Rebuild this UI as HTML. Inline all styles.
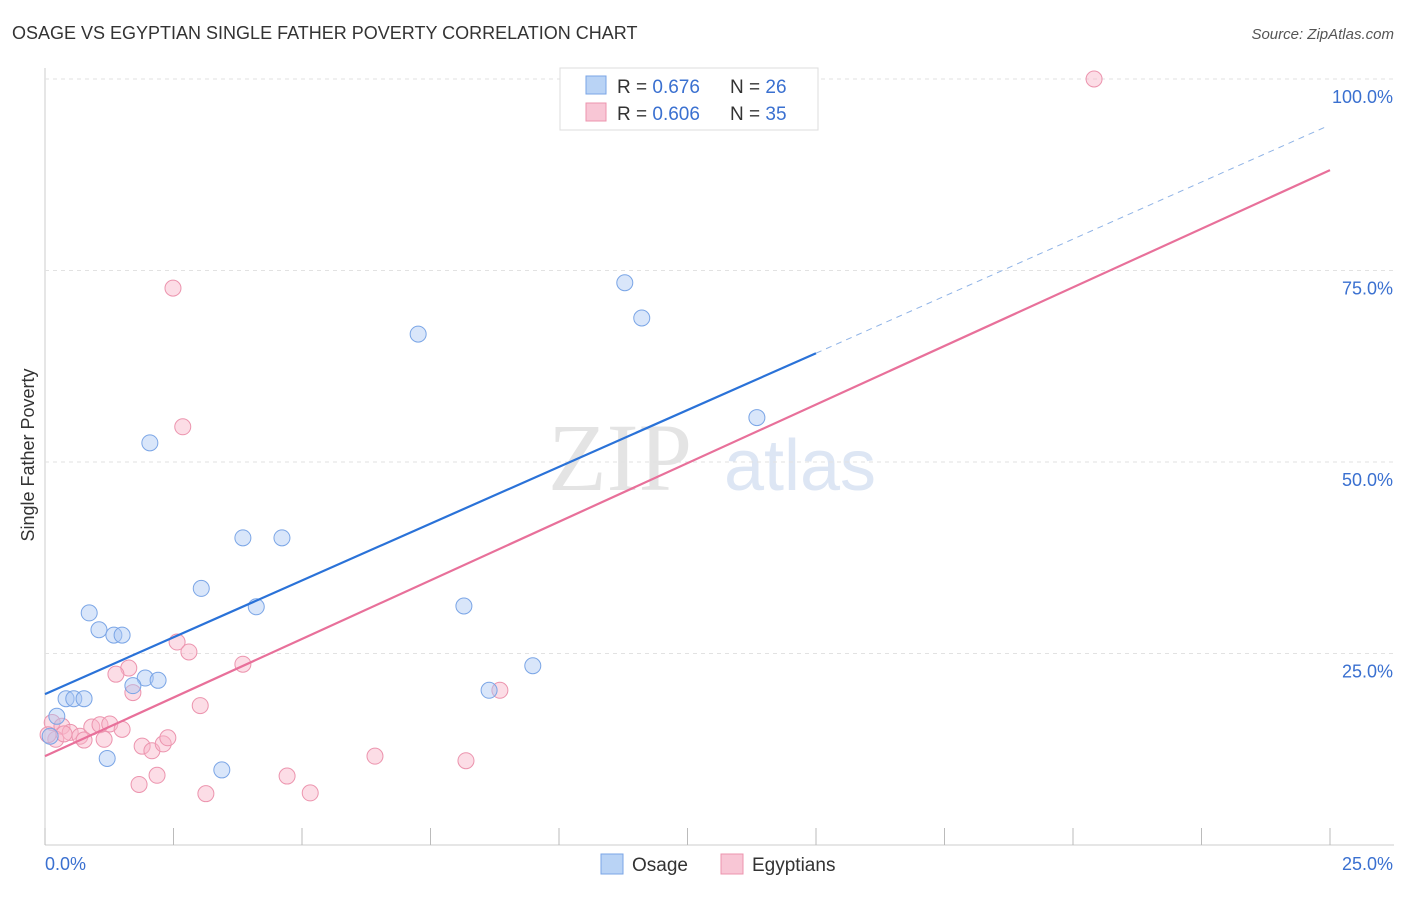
<!DOCTYPE html>
<html><head><meta charset="utf-8"><style>
body{margin:0;background:#fff;font-family:"Liberation Sans",sans-serif}
</style></head><body>
<svg id="c" width="1406" height="892" xmlns="http://www.w3.org/2000/svg">
<text x="12" y="39" font-size="18" fill="#333">OSAGE VS EGYPTIAN SINGLE FATHER POVERTY CORRELATION CHART</text>
<text x="1394" y="39" font-size="15" fill="#555" text-anchor="end" font-style="italic">Source: ZipAtlas.com</text>
<text x="620" y="490" font-size="96" fill="#e4e4e4" font-family="Liberation Serif" text-anchor="middle">ZIP</text>
<text x="800" y="490" font-size="72" fill="#dde6f4" text-anchor="middle">atlas</text>
<g id="axes"></g><g id="marks"></g>
<text x="34" y="455" font-size="18" fill="#333" text-anchor="middle" transform="rotate(-90 34 455)">Single Father Poverty</text>
<g>
<rect x="560" y="68" width="258" height="62" fill="#fff" stroke="#ddd"/>
<rect x="586" y="76" width="20" height="18" fill="#b9d3f5" stroke="#7aa5e6"/>
<text x="617" y="93" font-size="19" fill="#333">R = <tspan fill="#3a70d0">0.676</tspan></text>
<text x="730" y="93" font-size="19" fill="#333">N = <tspan fill="#3a70d0">26</tspan></text>
<rect x="586" y="103" width="20" height="18" fill="#f8c6d5" stroke="#ec94ae"/>
<text x="617" y="120" font-size="19" fill="#333">R = <tspan fill="#3a70d0">0.606</tspan></text>
<text x="730" y="120" font-size="19" fill="#333">N = <tspan fill="#3a70d0">35</tspan></text>
</g>
<g>
<rect x="601" y="854" width="22" height="20" fill="#b9d3f5" stroke="#7aa5e6"/>
<text x="632" y="871" font-size="19" fill="#333">Osage</text>
<rect x="721" y="854" width="22" height="20" fill="#f8c6d5" stroke="#ec94ae"/>
<text x="752" y="871" font-size="19" fill="#333">Egyptians</text>
</g>
</svg>
<script>
const yTicks=[25,50,75,100];
const xTickLabels=["0.0%","25.0%"];
const osageX=[2.04,11.28,11.61,7.26,13.85,3.85,4.61,3.04,4.11,0.86,1.05,1.34,1.50,8.15,9.49,1.95,2.20,1.71,8.64,0.41,0.56,0.76,0.23,1.21,3.44,0.10];
const osageY=[52.5,73.4,68.8,66.7,55.8,40.1,40.1,33.5,31.1,30.3,28.1,27.4,27.4,31.2,23.4,21.8,21.5,20.8,20.2,19.1,19.1,19.1,16.8,11.3,9.8,14.2];
const egyX=[20.41,2.49,2.68,2.57,2.80,3.85,1.63,1.38,1.71,3.02,0.14,0.33,0.49,0.68,0.91,1.07,1.26,1.50,1.15,0.76,1.89,2.08,2.30,2.39,0.21,6.42,8.19,2.18,1.83,4.71,5.16,3.13,8.85,0.06,0.37];
const egyY=[100,72.7,54.6,26.5,25.2,23.6,23.1,22.3,19.9,18.2,16.0,15.5,14.7,14.2,15.4,15.7,15.8,15.1,13.8,13.7,12.9,12.3,13.2,14.0,13.8,11.6,11.0,9.1,7.9,9.0,6.8,6.7,20.2,14.4,14.5];
const osageLine=[[0,19.7],[15,64.2]], osageDash=[[15,64.2],[24.9,93.7]];
const egyLine=[[0,11.6],[25,88.1]];
const X=v=>45+v*51.4, Y=v=>845-v*7.66;
const ns="http://www.w3.org/2000/svg";
const ax=document.getElementById('axes'), mk=document.getElementById('marks');
function el(t,a,p){const e=document.createElementNS(ns,t);for(const k in a)e.setAttribute(k,a[k]);p.appendChild(e);return e;}
let e=el('line',{x1:45,y1:68,x2:45,y2:845,stroke:'#ccc'},ax);


e=el('line',{x1:45,y1:845,x2:1394,y2:845,stroke:'#ccc'},ax);


for(let i=0;i<=10;i++){e=el('line',{x1:X(i*2.5),x2:X(i*2.5),y1:828,y2:845,stroke:'#bbb'},ax);

}
yTicks.forEach(t=>{e=el('line',{x1:45,x2:1394,y1:Y(t),y2:Y(t),stroke:'#e2e2e2','stroke-dasharray':'4,4'},ax);


e=el('text',{x:1393,y:Y(t)+24,'font-size':18,fill:'#3a70d0','text-anchor':'end'},ax);e.textContent=t.toFixed(1)+'%';

});
e=el('text',{x:45,y:870,'font-size':18,fill:'#3a70d0'},ax);e.textContent=xTickLabels[0];


e=el('text',{x:1393,y:870,'font-size':18,fill:'#3a70d0','text-anchor':'end'},ax);e.textContent=xTickLabels[1];


egyX.forEach((v,i)=>{e=el('circle',{cx:X(v),cy:Y(egyY[i]),r:8,fill:'rgba(248,180,200,0.45)',stroke:'#ec94ae','stroke-width':1},mk);

});
osageX.forEach((v,i)=>{e=el('circle',{cx:X(v),cy:Y(osageY[i]),r:8,fill:'rgba(170,200,245,0.45)',stroke:'#7aa5e6','stroke-width':1},mk);

});
e=el('line',{x1:X(egyLine[0][0]),y1:Y(egyLine[0][1]),x2:X(egyLine[1][0]),y2:Y(egyLine[1][1]),stroke:'#e8709a','stroke-width':2.2},mk);


e=el('line',{x1:X(osageLine[0][0]),y1:Y(osageLine[0][1]),x2:X(osageLine[1][0]),y2:Y(osageLine[1][1]),stroke:'#2a72d8','stroke-width':2.2},mk);


e=el('line',{x1:X(osageDash[0][0]),y1:Y(osageDash[0][1]),x2:X(osageDash[1][0]),y2:Y(osageDash[1][1]),stroke:'#8fb3e6','stroke-width':1,'stroke-dasharray':'6,5'},mk);


</script>
</body></html>
